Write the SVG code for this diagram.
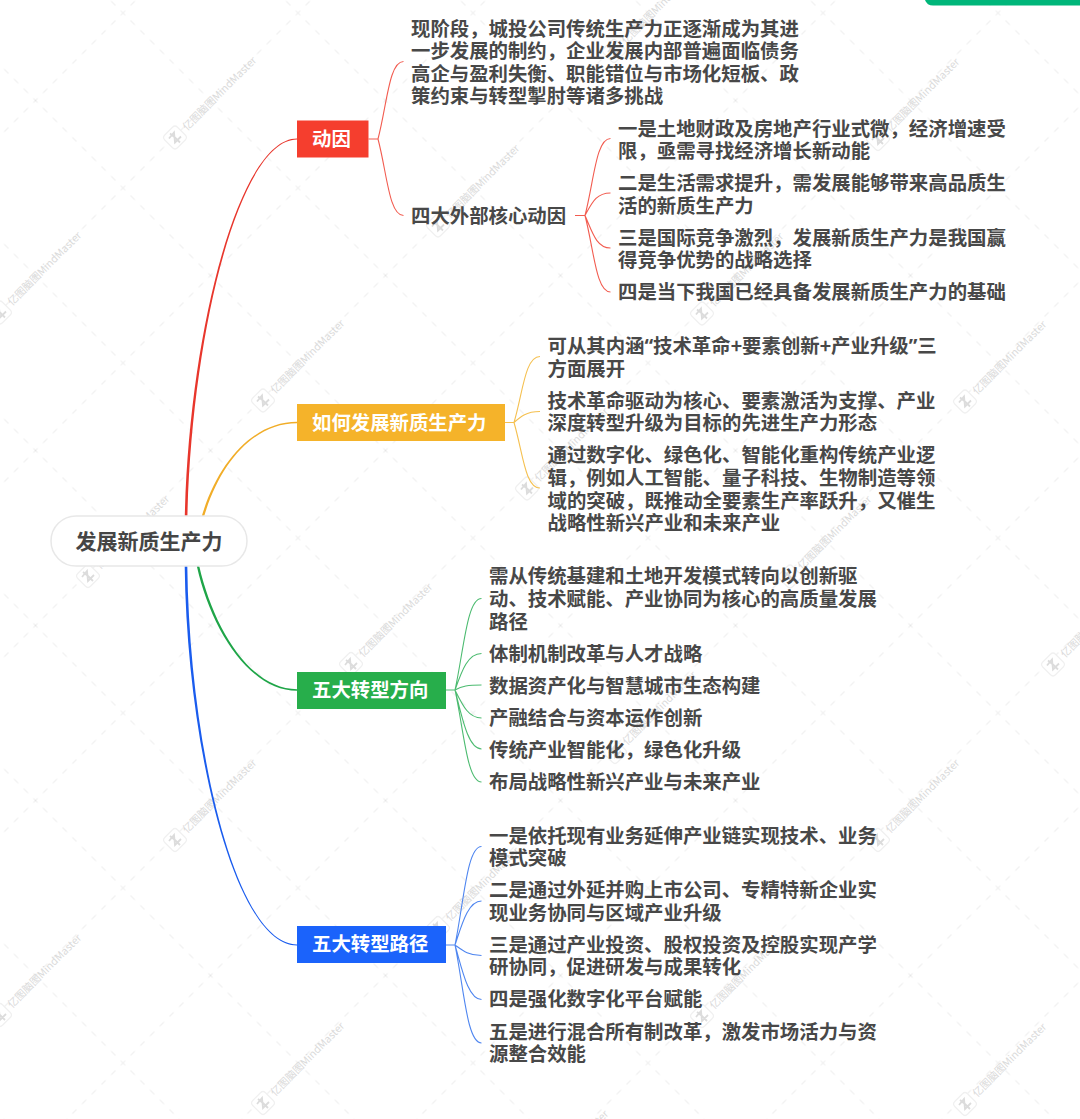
<svg xmlns="http://www.w3.org/2000/svg" width="1080" height="1119" viewBox="0 0 1080 1119">
<style>
text{font-family:"Noto Sans CJK SC","Noto Sans",sans-serif}
.t{font-size:19.4px;font-weight:700;fill:#484848}
.h{font-size:19.4px;font-weight:700;fill:#fff}
.r{font-size:21px;font-weight:700;fill:#454545}
.w{font-size:10.5px;font-weight:400;fill:#dadada}
.q{font-family:"Noto Sans",sans-serif}
.s{fill:none;stroke-width:1.1}
.red{fill:#e8362c}.yel{fill:#f1ad28}.grn{fill:#1fa548}.blu{fill:#1a5cee}
.sred{stroke:#f25c50}.syel{stroke:#f5c050}.sgrn{stroke:#4cbb70}.sblu{stroke:#4f86f0}
</style>
<defs>
<pattern id="grid" patternUnits="userSpaceOnUse" width="175" height="175" patternTransform="translate(35.5 100.5)">
<path d="M0 0L175 175M175 0L0 175" fill="none" stroke="#e6e6e6" stroke-width="1" stroke-dasharray="6 7.75" stroke-dashoffset="3"/>
</pattern>
<g id="logo">
<rect x="-9" y="-9" width="18" height="18" rx="3.5" transform="rotate(-45)" fill="#fff" stroke="#f0f0f0" stroke-width="1.2"/>
<path d="M-6 1L-1 -5L0 5L6 -1M-5 -4L0 0L5 5" fill="none" stroke="#dcdcdc" stroke-width="1.8"/>
</g>
</defs>
<rect width="1080" height="1119" fill="#fff"/>
<g id="watermark">
<rect width="1080" height="1119" fill="url(#grid)"/>
<use href="#logo" x="175" y="137.5"/><text class="w" transform="translate(175 137.5) rotate(-45)" x="13" y="4">亿图脑图MindMaster</text>
<use href="#logo" x="438" y="225.5"/><text class="w" transform="translate(438 225.5) rotate(-45)" x="13" y="4">亿图脑图MindMaster</text>
<use href="#logo" x="702" y="313.5"/><text class="w" transform="translate(702 313.5) rotate(-45)" x="13" y="4">亿图脑图MindMaster</text>
<use href="#logo" x="965" y="401.5"/><text class="w" transform="translate(965 401.5) rotate(-45)" x="13" y="4">亿图脑图MindMaster</text>
<use href="#logo" x="0" y="312.5"/><text class="w" transform="translate(0 312.5) rotate(-45)" x="13" y="4">亿图脑图MindMaster</text>
<use href="#logo" x="263" y="400.5"/><text class="w" transform="translate(263 400.5) rotate(-45)" x="13" y="4">亿图脑图MindMaster</text>
<use href="#logo" x="527" y="488.5"/><text class="w" transform="translate(527 488.5) rotate(-45)" x="13" y="4">亿图脑图MindMaster</text>
<use href="#logo" x="790" y="576.5"/><text class="w" transform="translate(790 576.5) rotate(-45)" x="13" y="4">亿图脑图MindMaster</text>
<use href="#logo" x="1053" y="664.5"/><text class="w" transform="translate(1053 664.5) rotate(-45)" x="13" y="4">亿图脑图MindMaster</text>
<use href="#logo" x="88" y="576"/><text class="w" transform="translate(88 576) rotate(-45)" x="13" y="4">亿图脑图MindMaster</text>
<use href="#logo" x="351" y="664"/><text class="w" transform="translate(351 664) rotate(-45)" x="13" y="4">亿图脑图MindMaster</text>
<use href="#logo" x="615" y="752"/><text class="w" transform="translate(615 752) rotate(-45)" x="13" y="4">亿图脑图MindMaster</text>
<use href="#logo" x="878" y="840"/><text class="w" transform="translate(878 840) rotate(-45)" x="13" y="4">亿图脑图MindMaster</text>
<use href="#logo" x="175" y="840"/><text class="w" transform="translate(175 840) rotate(-45)" x="13" y="4">亿图脑图MindMaster</text>
<use href="#logo" x="438" y="928"/><text class="w" transform="translate(438 928) rotate(-45)" x="13" y="4">亿图脑图MindMaster</text>
<use href="#logo" x="702" y="1016"/><text class="w" transform="translate(702 1016) rotate(-45)" x="13" y="4">亿图脑图MindMaster</text>
<use href="#logo" x="965" y="1104"/><text class="w" transform="translate(965 1104) rotate(-45)" x="13" y="4">亿图脑图MindMaster</text>
<use href="#logo" x="0" y="1015"/><text class="w" transform="translate(0 1015) rotate(-45)" x="13" y="4">亿图脑图MindMaster</text>
<use href="#logo" x="263" y="1103"/><text class="w" transform="translate(263 1103) rotate(-45)" x="13" y="4">亿图脑图MindMaster</text>
<use href="#logo" x="527" y="1191"/><text class="w" transform="translate(527 1191) rotate(-45)" x="13" y="4">亿图脑图MindMaster</text>
<use href="#logo" x="614" y="51"/><text class="w" transform="translate(614 51) rotate(-45)" x="13" y="4">亿图脑图MindMaster</text>
<use href="#logo" x="878" y="139"/><text class="w" transform="translate(878 139) rotate(-45)" x="13" y="4">亿图脑图MindMaster</text>
</g>
<path id="badge" d="M925 0H1080V5.500H933Q927 5.500 925 0Z" fill="#00b67a"/>
<g id="connectors">
<path class="red" d="M184.700 520C188.700 330 239.700 138.400 297 138.400V139.600C240.400 139.600 191.300 330 187.300 520Z"/>
<path class="yel" d="M201.800 516C218.800 460 254.500 421.800 297 421.800V423.200C255.500 423.200 221.200 460 204.200 516Z"/>
<path class="grn" d="M196.800 566C211 630 250 690.800 297 690.800V689.200C251 689.200 214 630 199.200 566Z"/>
<path class="blu" d="M184.700 566C186.700 745 234.700 945.600 297 945.600V944.400C235.300 944.400 189.300 745 187.300 566Z"/>
<path class="s sred" d="M368.500 139H378M378 139C387 105 389 61.500 403.500 61.500M378 139C387 173 389 215.500 403.500 215.500"/>
<path class="s sred" d="M575 215.500H585M585 215.500C594 181 596 138.500 610.500 138.500M585 215.500C592 203 596 193 610.500 193M585 215.500C592 231 596 248 610.500 248M585 215.500C594 250 596 292 610.500 292"/>
<path class="s syel" d="M505 422.500H514M514 422.500C523 392 525 356.500 540 356.500M514 422.500C520 417 526 411.500 540 411.500M514 422.500C523 453 525 488 540 488"/>
<path class="s sgrn" d="M446 690H455M455 690C464 649 467 598.500 481.500 598.500M455 690C462 670 468 653.500 481.500 653.500M455 690C462 686 468 685 481.500 685M455 690C462 704 468 718 481.500 718M455 690C462 717 468 749 481.500 749M455 690C464 731 467 782 481.500 782"/>
<path class="s sblu" d="M446 945H455M455 945C464 901 467 846.500 481.500 846.500M455 945C462 924 468 901 481.500 901M455 945C462 950 468 955.500 481.500 955.500M455 945C462 969 468 999.500 481.500 999.500M455 945C464 989 467 1043 481.500 1043"/>
</g>
<g id="root">
<rect x="51" y="516" width="196" height="50" rx="25" fill="#fff" stroke="#e8e8e8" stroke-width="1.5"/>
<text class="r" x="75.500" y="548.500">发展新质生产力</text>
</g>
<g id="n-dongyin">
<rect x="297" y="120.500" width="71.500" height="37" fill="#f53e2e"/>
<text class="h" x="312" y="146">动因</text>
<text class="t" x="411" y="35.600">现阶段，城投公司传统生产力正逐渐成为其进</text>
<text class="t" x="411" y="58.200">一步发展的制约，企业发展内部普遍面临债务</text>
<text class="t" x="411" y="80.800">高企与盈利失衡、职能错位与市场化短板、政</text>
<text class="t" x="411" y="103.400">策约束与转型掣肘等诸多挑战</text>
<text class="t" x="411" y="222.700">四大外部核心动因</text>
<text class="t" x="618" y="135.600">一是土地财政及房地产行业式微，经济增速受</text>
<text class="t" x="618" y="158.200">限，亟需寻找经济增长新动能</text>
<text class="t" x="618" y="190.300">二是生活需求提升，需发展能够带来高品质生</text>
<text class="t" x="618" y="212.900">活的新质生产力</text>
<text class="t" x="618" y="244.600">三是国际竞争激烈，发展新质生产力是我国赢</text>
<text class="t" x="618" y="267.200">得竞争优势的战略选择</text>
<text class="t" x="618" y="299">四是当下我国已经具备发展新质生产力的基础</text>
</g>
<g id="n-ruhe">
<rect x="297" y="404" width="208" height="37" fill="#f5b32a"/>
<text class="h" x="312" y="429.500">如何发展新质生产力</text>
<text class="t" x="547.500" y="352.700">可从其内涵<tspan class="q">“</tspan>技术革命+要素创新+产业升级<tspan class="q">”</tspan>三</text>
<text class="t" x="547.500" y="376">方面展开</text>
<text class="t" x="547.500" y="407.700">技术革命驱动为核心、要素激活为支撑、产业</text>
<text class="t" x="547.500" y="430.300">深度转型升级为目标的先进生产力形态</text>
<text class="t" x="547.500" y="462.400">通过数字化、绿色化、智能化重构传统产业逻</text>
<text class="t" x="547.500" y="485">辑，例如人工智能、量子科技、生物制造等领</text>
<text class="t" x="547.500" y="507.700">域的突破，既推动全要素生产率跃升，又催生</text>
<text class="t" x="547.500" y="530.300">战略性新兴产业和未来产业</text>
</g>
<g id="n-fangxiang">
<rect x="297" y="672" width="149" height="37" fill="#27ae4b"/>
<text class="h" x="312" y="697">五大转型方向</text>
<text class="t" x="489" y="583.400">需从传统基建和土地开发模式转向以创新驱</text>
<text class="t" x="489" y="606">动、技术赋能、产业协同为核心的高质量发展</text>
<text class="t" x="489" y="628.600">路径</text>
<text class="t" x="489" y="661">体制机制改革与人才战略</text>
<text class="t" x="489" y="692.700">数据资产化与智慧城市生态构建</text>
<text class="t" x="489" y="724.900">产融结合与资本运作创新</text>
<text class="t" x="489" y="756.600">传统产业智能化，绿色化升级</text>
<text class="t" x="489" y="788.800">布局战略性新兴产业与未来产业</text>
</g>
<g id="n-lujing">
<rect x="297" y="926" width="149" height="37" fill="#1b63fb"/>
<text class="h" x="312" y="951">五大转型路径</text>
<text class="t" x="489" y="842.700">一是依托现有业务延伸产业链实现技术、业务</text>
<text class="t" x="489" y="865.200">模式突破</text>
<text class="t" x="489" y="897.400">二是通过外延并购上市公司、专精特新企业实</text>
<text class="t" x="489" y="919.900">现业务协同与区域产业升级</text>
<text class="t" x="489" y="951.500">三是通过产业投资、股权投资及控股实现产学</text>
<text class="t" x="489" y="974">研协同，促进研发与成果转化</text>
<text class="t" x="489" y="1006">四是强化数字化平台赋能</text>
<text class="t" x="489" y="1038.500">五是进行混合所有制改革，激发市场活力与资</text>
<text class="t" x="489" y="1061">源整合效能</text>
</g>
</svg>
